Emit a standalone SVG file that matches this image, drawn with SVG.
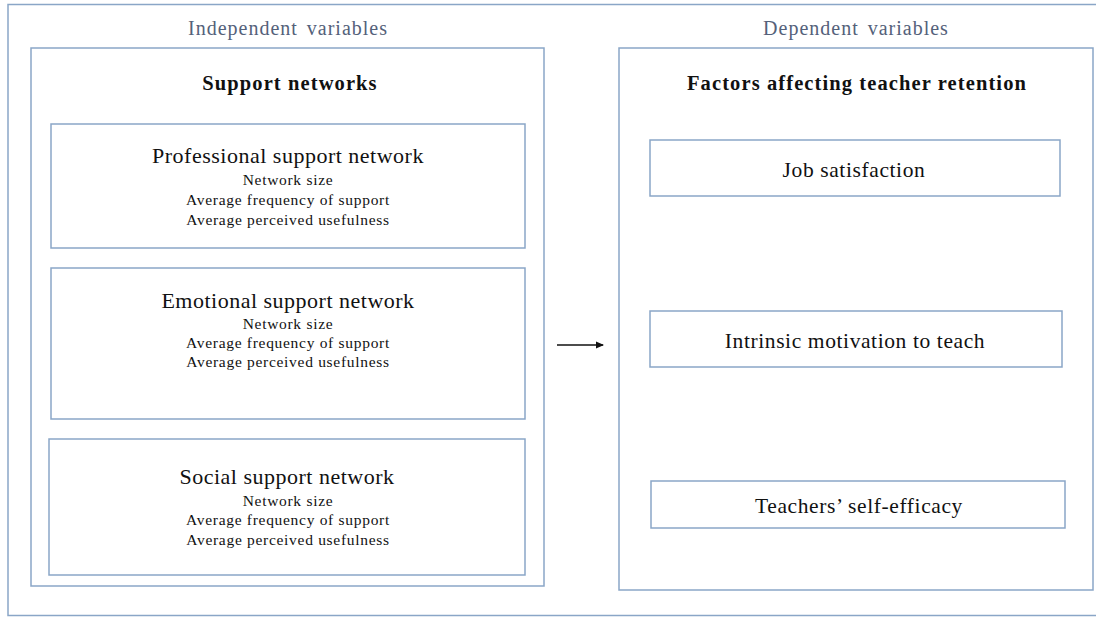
<svg xmlns="http://www.w3.org/2000/svg" width="1096" height="617" viewBox="0 0 1096 617">
<style>
.box{fill:#fff;stroke:#8aa6c7;stroke-width:1.5}
.hd{font-family:"Liberation Serif",serif;font-size:20px;fill:#54617a;text-anchor:middle;letter-spacing:1px;word-spacing:3px}
.ti{font-family:"Liberation Serif",serif;font-size:20.5px;font-weight:bold;fill:#111;text-anchor:middle;letter-spacing:1.1px}
.nt{font-family:"Liberation Serif",serif;font-size:22px;fill:#111;text-anchor:middle;letter-spacing:0.5px}
.rt{font-family:"Liberation Serif",serif;font-size:21.5px;fill:#111;text-anchor:middle;letter-spacing:0.6px}
.sb{font-family:"Liberation Serif",serif;font-size:15.5px;fill:#111;text-anchor:middle;letter-spacing:0.7px}
</style>
<defs>
<marker id="ah" markerWidth="8" markerHeight="8" refX="7" refY="4" orient="auto" markerUnits="userSpaceOnUse">
<path d="M0,0.5 L8,4 L0,7.5 Z" fill="#111"/>
</marker>
</defs>
<rect width="1096" height="617" fill="#fff"/>
<g id="frame"><path d="M1100,4.5 H8 V615.5 H1100" fill="none" stroke="#8aa6c7" stroke-width="1.5"/></g>
<g id="independent">
<text class="hd" x="288" y="35">Independent variables</text>
<rect class="box" x="31" y="48" width="513" height="538"/>
<text class="ti" x="290" y="90">Support networks</text>
</g>
<g id="professional">
<rect class="box" x="51" y="124" width="474" height="124"/>
<text class="nt" x="288" y="163">Professional support network</text>
<text class="sb" x="288" y="185">Network size</text>
<text class="sb" x="288" y="205">Average frequency of support</text>
<text class="sb" x="288" y="225">Average perceived usefulness</text>
</g>
<g id="emotional">
<rect class="box" x="51" y="268" width="474" height="151"/>
<text class="nt" x="288" y="308">Emotional support network</text>
<text class="sb" x="288" y="329">Network size</text>
<text class="sb" x="288" y="348">Average frequency of support</text>
<text class="sb" x="288" y="367">Average perceived usefulness</text>
</g>
<g id="social">
<rect class="box" x="49" y="439" width="476" height="136"/>
<text class="nt" x="287" y="484">Social support network</text>
<text class="sb" x="288" y="506">Network size</text>
<text class="sb" x="288" y="525">Average frequency of support</text>
<text class="sb" x="288" y="545">Average perceived usefulness</text>
</g>
<g id="dependent">
<text class="hd" x="856" y="35">Dependent variables</text>
<rect class="box" x="619" y="48" width="474" height="542"/>
<text class="ti" x="857" y="90">Factors affecting teacher retention</text>
</g>
<g id="job">
<rect class="box" x="650" y="140" width="410" height="56"/>
<text class="rt" x="854" y="177">Job satisfaction</text>
</g>
<g id="intrinsic">
<rect class="box" x="650" y="311" width="412" height="56"/>
<text class="rt" x="855" y="348">Intrinsic motivation to teach</text>
</g>
<g id="efficacy">
<rect class="box" x="651" y="481" width="414" height="47"/>
<text class="rt" x="859" y="513">Teachers’ self-efficacy</text>
</g>
<g id="connectors">
<line x1="557" y1="345" x2="603" y2="345" stroke="#111" stroke-width="1.3" marker-end="url(#ah)"/>
</g>
</svg>
